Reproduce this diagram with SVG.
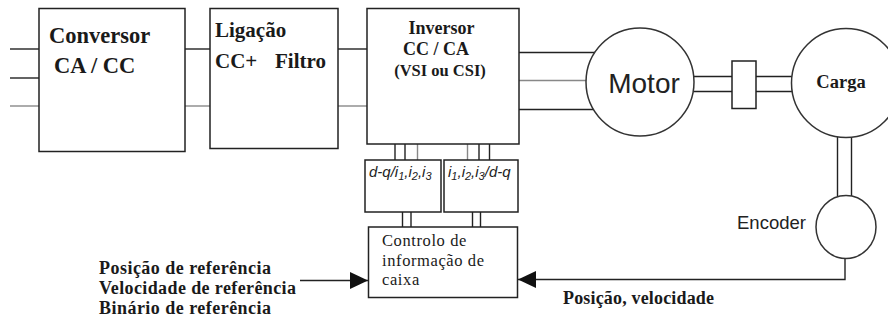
<svg xmlns="http://www.w3.org/2000/svg" width="888" height="322" viewBox="0 0 888 322">
<style>
.box{fill:#fff;stroke:#222;stroke-width:1.5}
.ln{stroke:#222;stroke-width:1.4;fill:none}
.gr{stroke:#888;stroke-width:1.4;fill:none}
.tb{font-family:"Liberation Serif","Times New Roman",serif;font-weight:bold;fill:#1a1a1a}
.tr{font-family:"Liberation Serif","Times New Roman",serif;fill:#1a1a1a;letter-spacing:0.6px}
.ts{font-family:"Liberation Sans",Arial,sans-serif;fill:#222}
</style>
<defs>
<marker id="ah" markerWidth="18" markerHeight="17" refX="18" refY="8.5" orient="auto" markerUnits="userSpaceOnUse">
<path d="M0,0 L18,8.5 L0,17 Z" fill="#111"/>
</marker>
</defs>
<g id="connectors">
<line class="ln" x1="10" y1="49" x2="39" y2="49"/>
<line class="ln" x1="10" y1="78" x2="39" y2="78"/>
<line class="gr" x1="10" y1="106" x2="39" y2="106"/>
<line class="ln" x1="185" y1="49" x2="210" y2="49"/>
<line class="gr" x1="185" y1="106" x2="210" y2="106"/>
<line class="ln" x1="338" y1="49" x2="367" y2="49"/>
<line class="gr" x1="338" y1="106" x2="367" y2="106"/>
<line class="ln" x1="519" y1="52.5" x2="595" y2="52.5"/>
<line class="gr" x1="519" y1="80.5" x2="586" y2="80.5"/>
<line class="ln" x1="519" y1="109.5" x2="593.5" y2="109.5"/>
<line class="ln" x1="395" y1="144" x2="395" y2="160"/>
<line class="ln" x1="405" y1="144" x2="405" y2="160"/>
<line class="gr" x1="417.5" y1="144" x2="417.5" y2="160"/>
<line class="gr" x1="467.5" y1="144" x2="467.5" y2="160"/>
<line class="ln" x1="479" y1="144" x2="479" y2="160"/>
<line class="ln" x1="489.5" y1="144" x2="489.5" y2="160"/>
<line class="ln" x1="402.5" y1="212" x2="402.5" y2="227"/>
<line class="ln" x1="411" y1="212" x2="411" y2="227"/>
<line class="ln" x1="472.5" y1="212" x2="472.5" y2="227"/>
<line class="ln" x1="480.5" y1="212" x2="480.5" y2="227"/>
<line class="ln" x1="693.5" y1="76.5" x2="732" y2="76.5"/>
<line class="ln" x1="693.5" y1="91.5" x2="732" y2="91.5"/>
<line class="ln" x1="756" y1="76.5" x2="792.5" y2="76.5"/>
<line class="ln" x1="756" y1="91.5" x2="792.5" y2="91.5"/>
<line class="ln" x1="837.5" y1="137" x2="837.5" y2="196"/>
<line class="ln" x1="851.5" y1="137" x2="851.5" y2="196"/>
<line class="ln" x1="300" y1="280.5" x2="368" y2="280.5" marker-end="url(#ah)"/>
<polyline class="ln" points="845,258 845,279.5 518,279.5" marker-end="url(#ah)"/>
</g>
<g id="conversor">
<rect class="box" x="39" y="8.5" width="146" height="143"/>
<text class="tb" x="49" y="43" font-size="22.5">Conversor</text>
<text class="tb" x="54" y="73" font-size="22.5">CA / CC</text>
</g>
<g id="ligacao">
<rect class="box" x="210" y="8.5" width="128" height="140"/>
<text class="tb" x="215" y="37" font-size="21">Ligação</text>
<text class="tb" x="215" y="68" font-size="21">CC+</text>
<text class="tb" x="275" y="68" font-size="21">Filtro</text>
</g>
<g id="inversor">
<rect class="box" x="367" y="8.5" width="152" height="135.5"/>
<text class="tb" x="441.5" y="33.5" font-size="18" text-anchor="middle">Inversor</text>
<text class="tb" x="436" y="55" font-size="18" text-anchor="middle">CC / CA</text>
<text class="tb" x="440" y="76" font-size="16.5" text-anchor="middle">(VSI ou CSI)</text>
</g>
<g id="dq-abc">
<rect class="box" x="365" y="160" width="76" height="52"/>
<text class="ts" x="369" y="177" font-size="15" font-style="italic">d-q/i<tspan font-size="11" dy="3">1</tspan><tspan dy="-3">,i</tspan><tspan font-size="11" dy="3">2</tspan><tspan dy="-3">,i</tspan><tspan font-size="11" dy="3">3</tspan></text>
</g>
<g id="abc-dq">
<rect class="box" x="444" y="160" width="74" height="52"/>
<text class="ts" x="448" y="177" font-size="15" font-style="italic">i<tspan font-size="11" dy="3">1</tspan><tspan dy="-3">,i</tspan><tspan font-size="11" dy="3">2</tspan><tspan dy="-3">,i</tspan><tspan font-size="11" dy="3">3</tspan><tspan dy="-3">/d-q</tspan></text>
</g>
<g id="controlo">
<rect class="box" x="368.5" y="227" width="149" height="70.5"/>
<text class="tr" x="382" y="246" font-size="16.5">Controlo de</text>
<text class="tr" x="382" y="265.5" font-size="16.5">informação de</text>
<text class="tr" x="382" y="285" font-size="16.5">caixa</text>
</g>
<g id="referencias">
<text class="tb" x="99" y="273.5" font-size="18" textLength="172">Posição de referência</text>
<text class="tb" x="99" y="293.5" font-size="18" textLength="197">Velocidade de referência</text>
<text class="tb" x="99" y="313.5" font-size="18" textLength="172">Binário de referência</text>
</g>
<g id="motor">
<circle cx="640" cy="82" r="54" fill="#fff" stroke="#333" stroke-width="1.5"/>
<text class="ts" x="644" y="92.5" font-size="28" text-anchor="middle">Motor</text>
</g>
<g id="acoplamento">
<rect class="box" x="732" y="61" width="24" height="47.5"/>
</g>
<g id="carga">
<circle cx="846" cy="83" r="54.5" fill="#fff" stroke="#333" stroke-width="1.5"/>
<text class="tb" x="841" y="87.5" font-size="18.5" text-anchor="middle">Carga</text>
</g>
<g id="encoder">
<ellipse cx="846" cy="227" rx="30" ry="31.5" fill="#fff" stroke="#333" stroke-width="1.5"/>
<text class="ts" x="737" y="228.5" font-size="18.5">Encoder</text>
</g>
<g id="feedback-label">
<text class="tb" x="563" y="303.5" font-size="18" textLength="151">Posição, velocidade</text>
</g>
</svg>
